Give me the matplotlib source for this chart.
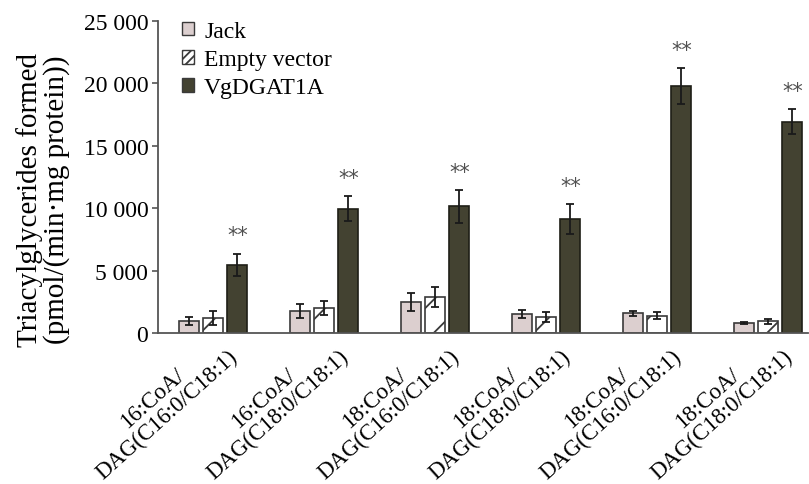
import matplotlib
matplotlib.use("Agg")
import matplotlib.pyplot as plt
from matplotlib.patches import Patch
import numpy as np

plt.rcParams["font.family"] = ["Liberation Serif", "DejaVu Serif"]
plt.rcParams["hatch.linewidth"] = 1.3

substrates = ["16:CoA/\nDAG(C16:0/C18:1)", "16:CoA/\nDAG(C18:0/C18:1)",
              "18:CoA/\nDAG(C16:0/C18:1)", "18:CoA/\nDAG(C18:0/C18:1)",
              "18:CoA/\nDAG(C16:0/C18:1)", "18:CoA/\nDAG(C18:0/C18:1)"]

jack = [960, 1740, 2480, 1500, 1600, 780]
jack_err = [300, 550, 700, 320, 200, 80]
empty_vector = [1200, 2000, 2860, 1260, 1390, 940]
empty_err = [550, 550, 800, 400, 300, 200]
vgdgat1a = [5470, 9950, 10150, 9130, 19780, 16930]
vgdgat1a_err = [900, 1000, 1300, 1180, 1440, 990]

x = np.arange(len(substrates))
width = 0.18
step = 0.22

fig = plt.figure(figsize=(8.09, 4.85), dpi=100)
ax = fig.add_axes([0.1953, 0.3113, 0.8035, 0.6433])

edge = "#3a3a3a"
err_kw = dict(ecolor="#1a1a1a", elinewidth=1.3, capsize=3, capthick=1.3)

ax.bar(x - step, jack, width, yerr=jack_err, color="#dccfcf",
       edgecolor=edge, linewidth=1.2, error_kw=err_kw)
ax.bar(x, empty_vector, width, yerr=empty_err, color="white",
       edgecolor=edge, linewidth=1.2, hatch="/", error_kw=err_kw)
ax.bar(x + step, vgdgat1a, width, yerr=vgdgat1a_err, color="#434231",
       edgecolor="#1e1e16", linewidth=1.2, error_kw=err_kw)

# significance marks above the VgDGAT1A bars
for xi, v, e in zip(x, vgdgat1a, vgdgat1a_err):
    ax.annotate("**", (xi + step, v + e), xytext=(0, 6), textcoords="offset points",
                ha="center", va="bottom", fontsize=15, color="#505050",
                family=["DejaVu Sans"])

ax.set_xlim(-0.495, 5.36)
ax.set_ylim(0, 25000)
ax.set_yticks([0, 5000, 10000, 15000, 20000, 25000])
ax.set_yticklabels(["0", "5 000", "10 000", "15 000", "20 000", "25 000"], fontsize=17)
ax.set_xticks(x + 0.0)
ax.set_xticklabels(substrates, rotation=42, ha="right", va="top",
                   rotation_mode="anchor", multialignment="center", fontsize=16.5,
                   linespacing=1.05)
ax.tick_params(axis="x", length=0, pad=-3)
ax.tick_params(axis="y", direction="out", length=4, width=1.2, color="#555555", pad=3)

for side in ["top", "right"]:
    ax.spines[side].set_visible(False)
ax.spines["left"].set_color("#555555")
ax.spines["bottom"].set_color("#555555")
ax.spines["left"].set_linewidth(1.3)
ax.spines["bottom"].set_linewidth(1.3)

ax.set_ylabel("Triacylglycerides formed\n(pmol/(min·mg protein))", fontsize=21,
              linespacing=1.0)
ax.yaxis.set_label_coords(-0.135, 0.43)

handles = [Patch(facecolor="#dccfcf", edgecolor=edge, label="Jack"),
           Patch(facecolor="white", edgecolor=edge, hatch="////", label="Empty vector"),
           Patch(facecolor="#434231", edgecolor=edge, label="VgDGAT1A")]
ax.legend(handles=handles, loc="upper left", bbox_to_anchor=(0.022, 1.03),
          frameon=False, fontsize=17, handlelength=0.5, handleheight=0.5,
          handletextpad=0.45, labelspacing=0.3, borderaxespad=0)

fig.savefig("out.png", dpi=100)
